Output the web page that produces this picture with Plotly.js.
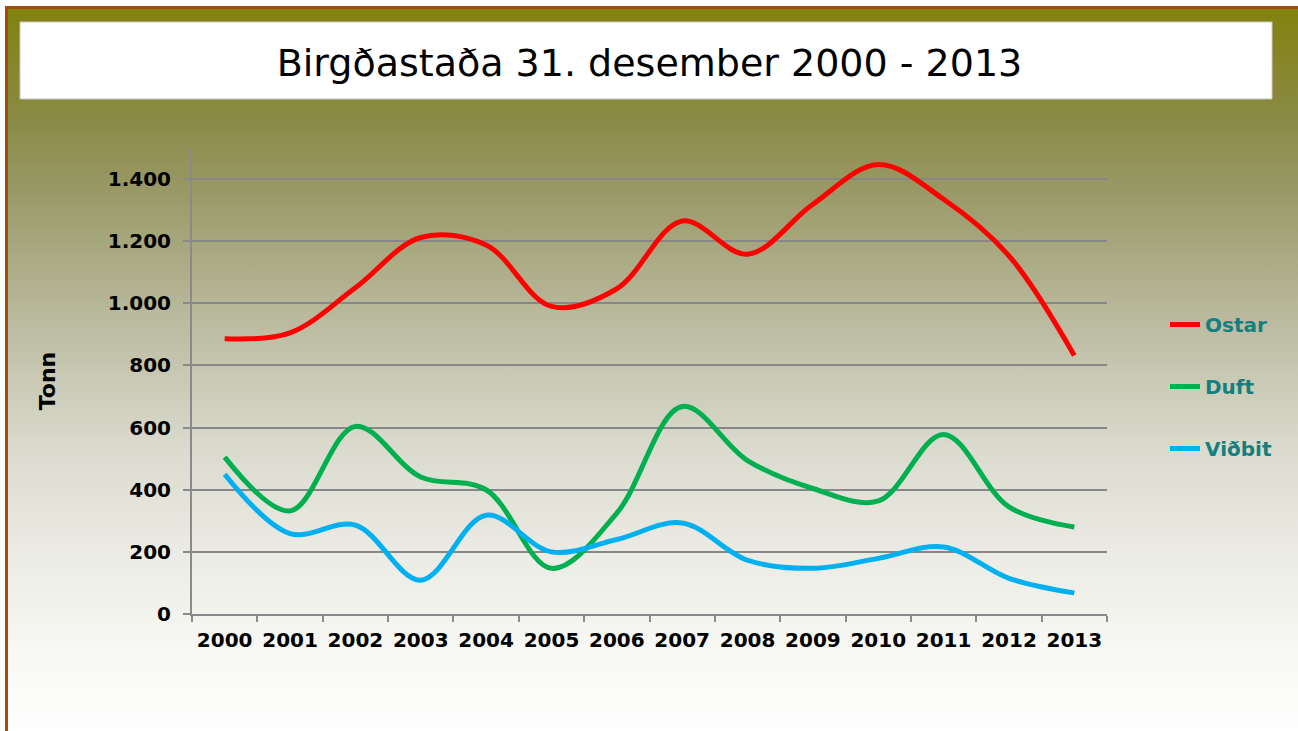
<!DOCTYPE html>
<html>
<head>
<meta charset="utf-8">
<script src="https://cdn.plot.ly/plotly-3.0.1.min.js"></script>
<style>
html, body { margin: 0; padding: 0; width: 1298px; height: 731px; overflow: hidden; background: #ffffff; }
#frame {
  position: absolute; left: 5px; top: 6px; width: 1293px; height: 725px;
  border-left: 3px solid #a34c08; border-top: 3px solid #a34c08; box-sizing: border-box;
  background: linear-gradient(to bottom, #82820f 0%, #8a8a45 15%, #979763 24%, #bcbca2 44%, #d9d9cc 60%, #ebebe4 75%, #f7f7f3 88%, #fefefe 100%);
}
#chart { position: absolute; left: 0; top: 0; width: 1298px; height: 731px; }
</style>
</head>
<body>
<div id="frame"></div>
<div id="chart"></div>
<script>
const years = ['2000','2001','2002','2003','2004','2005','2006','2007','2008','2009','2010','2011','2012','2013'];
const ostar = [886, 905, 1050, 1212, 1188, 990, 1047, 1265, 1158, 1319, 1447, 1335, 1153, 832];
const duft = [505, 332, 604, 441, 400, 147, 325, 668, 494, 404, 364, 578, 345, 280];
const vidbit = [450, 259, 286, 109, 318, 200, 240, 293, 173, 147, 179, 216, 115, 68];
const yTicks = [0, 200, 400, 600, 800, 1000, 1200, 1400];
const yTickText = ['0', '200', '400', '600', '800', '1.000', '1.200', '1.400'];

const FONT = 'DejaVu Sans, Verdana, sans-serif';

const mk = (name, y, color, g) => ({
  type: 'scatter', mode: 'lines', name: name, x: years, y: y, legendgroup: g,
  line: { color: color, width: 5, shape: 'spline', smoothing: 1 }
});

const data = [
  mk('Ostar', ostar, '#ff0000', 'a'),
  mk('Duft', duft, '#00b050', 'b'),
  mk('Viðbit', vidbit, '#00b0f0', 'c')
];

const layout = {
  width: 1298, height: 731,
  margin: { l: 192, r: 191, t: 148, b: 117 },
  paper_bgcolor: 'rgba(0,0,0,0)',
  plot_bgcolor: 'rgba(0,0,0,0)',
  font: { family: FONT, color: '#000000' },
  title: {
    text: 'Birgðastaða 31. desember 2000 - 2013',
    font: { size: 38, color: '#000000', family: FONT },
    x: 0.5, xanchor: 'center', xref: 'paper', y: 1 - 63 / 731, yanchor: 'middle', yref: 'container'
  },
  shapes: [{
    type: 'rect', xref: 'paper', yref: 'paper', layer: 'below',
    x0: (20 - 192) / 915, x1: (1272 - 192) / 915,
    y0: (614 - 99) / 466, y1: (614 - 22) / 466,
    fillcolor: '#ffffff', line: { color: '#c8c8c8', width: 1 }
  }],
  xaxis: {
    type: 'category', range: [-0.5, 13.5], tickson: 'boundaries',
    ticks: 'outside', ticklen: 6, tickwidth: 2, tickcolor: '#8a8a8a',
    showline: true, linecolor: '#8a8a8a', linewidth: 2, showgrid: false, zeroline: false,
    tickangle: 0,
    tickfont: { size: 20, color: '#000000', family: FONT, weight: 'bold' },
    ticklabelstandoff: 7, fixedrange: true
  },
  yaxis: {
    range: [0, 1500], tickvals: yTicks, ticktext: yTickText,
    ticks: 'outside', ticklen: 7, tickwidth: 2, tickcolor: '#8a8a8a',
    showline: true, linecolor: '#8a8a8a', linewidth: 2,
    showgrid: true, gridcolor: '#878787', gridwidth: 2, zeroline: false,
    tickfont: { size: 20, color: '#000000', family: FONT, weight: 'bold' },
    ticklabelstandoff: 8,
    title: { text: 'Tonn', standoff: 46, font: { size: 22, color: '#000000', family: FONT, weight: 'bold' } },
    fixedrange: true
  },
  showlegend: true,
  legend: {
    x: (1165 - 192) / 915, xanchor: 'left', y: (614 - 305) / 466, yanchor: 'top',
    bgcolor: 'rgba(0,0,0,0)', borderwidth: 0, tracegroupgap: 33,
    font: { size: 20, color: '#138080', family: FONT, weight: 'bold' },
    itemclick: false, itemdoubleclick: false
  }
};

Plotly.newPlot('chart', data, layout, { displayModeBar: false, staticPlot: true });
</script>
</body>
</html>
